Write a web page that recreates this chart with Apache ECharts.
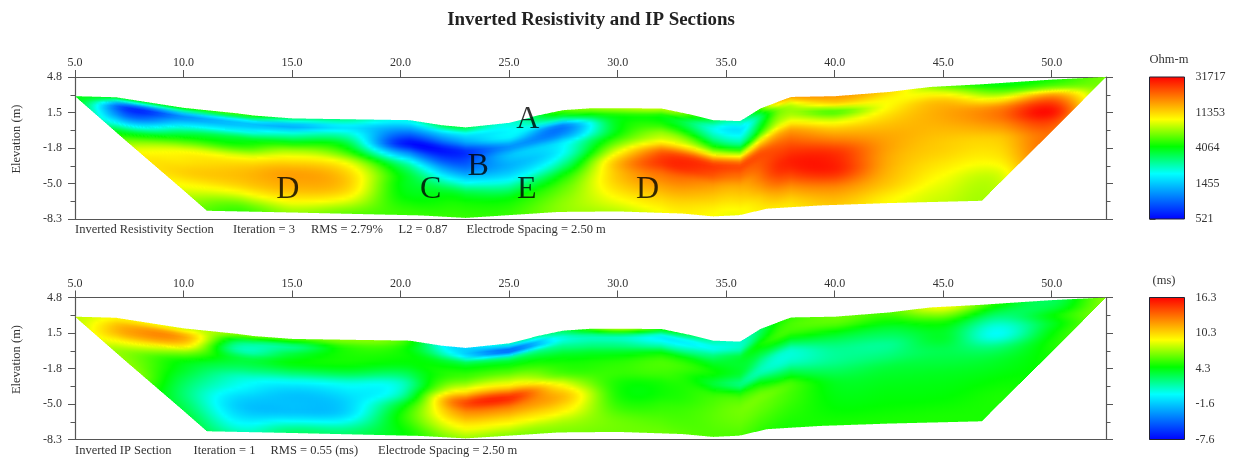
<!DOCTYPE html>
<html>
<head>
<meta charset="utf-8">
<script src="https://cdn.jsdelivr.net/npm/echarts@6/dist/echarts.min.js"></script>
<style>html,body{margin:0;padding:0;background:#fff}#c{width:1238px;height:460px}</style>
</head>
<body>
<div id="c"></div>
<script>
const xTicks = [5,10,15,20,25,30,35,40,45,50];
const elevationLabels = ['-8.3','-5.0','-1.8','1.5','4.8'];
const resistivityLabels = ['521','1455','4064','11353','31717'];
const chargeabilityLabels = ['-7.6','-1.6','4.3','10.3','16.3'];

const surfaceX = [5,6.9,10,12.5,13.2,15,18,20.4,21.9,23,25,26.4,27.5,28.8,32,33.5,34.4,35.65,36.6,38,40,42.5,44.4,46.8,50,52.5];
const surfaceZ = [3.03,2.93,1.95,1.44,1.25,0.98,0.89,0.82,0.35,0.15,0.57,1.28,1.74,1.92,1.9,1.28,0.82,0.73,1.9,2.96,3.03,3.42,3.88,4.13,4.56,4.8];
const bottomX = [5,11.06,15,20.9,23,27.3,30,33,34.4,35.6,36.9,39.3,42.5,46.8,52.5];
const bottomZ = [3.03,-7.54,-7.7,-7.97,-8.2,-7.65,-7.6,-7.8,-8.06,-7.95,-7.35,-7.05,-6.83,-6.62,4.8];

const columnX = [5,7.5,10,12.5,15,17.5,20,22.5,25,27.5,30,32.5,35.6,37.5,40,42.5,45,47.5,50,52.5];
const depthRows = [0,0.7,1.4,2.2,3,4,5,6,7,8.5,10,11.5];

const resistivity = [
 [4000,4000,4000,4000,4000,4000,4000,4000,4000,4000,4000,4000],
 [3800,750,800,1500,3500,6500,9000,9000,9000,9000,9000,9000],
 [4200,1150,1500,3000,5000,9000,10500,11500,9500,7000,6000,6000],
 [5000,1500,1700,3500,4800,9000,12000,12500,10000,5500,4500,4500],
 [3000,1300,2200,4000,7000,11000,14500,14000,11500,7000,5000,5000],
 [2800,1700,2300,3500,5000,8800,11500,12000,10000,6000,4500,4500],
 [2000,1300,850,620,1200,2800,4000,4100,4300,5000,5000,5000],
 [3500,1700,1100,620,700,1100,2000,3600,4500,5000,5000,5000],
 [2200,1900,1800,1100,1400,1300,1700,2800,4200,5000,5000,5000],
 [5500,3000,1050,1100,1800,2000,2800,4300,5500,6500,6500,6500],
 [7000,4300,4000,4200,5500,8800,13000,12500,11500,9000,7000,7000],
 [7000,4000,4300,6500,9500,22000,26000,19000,15000,11000,9000,9000],
 [2500,1700,2000,3000,7000,21000,19000,14000,11500,9000,9000,9000],
 [12000,6500,6500,8500,14000,20000,24000,26000,22000,14000,10000,10000],
 [15000,11000,5500,8000,12000,17000,24000,27000,26000,16000,12000,11000],
 [11000,9500,9500,11000,12500,14000,14500,14000,13500,12000,9500,9000],
 [6000,9000,12500,14000,14000,13000,12000,11500,10500,9000,8000,7500],
 [4000,5500,9000,16000,18000,15000,12000,11000,10000,8000,7500,7500],
 [4500,6000,14500,24000,29000,22000,18000,18000,18000,18000,18000,18000],
 [6000,6000,6000,6000,6000,6000,6000,6000,6000,6000,6000,6000]
];

const chargeability = [
 [8,8,8,8,8,8,8,8,8,8,8,8],
 [9.5,11.5,11.5,9,7,7,7.5,7,6,6,6,6],
 [8.5,11.5,10.5,7,4.6,3.8,3,2.6,3,4,4,4],
 [7,3,1.5,3.5,3,1,0,-1.2,-1.3,0.5,3,3],
 [6,2.2,3.5,4.5,3,0,-1.6,-1.8,-1.4,2.5,3,3],
 [7,5.3,5,4.8,3.5,0.5,-0.8,-1.3,-0.8,2.5,3,3],
 [6,5,4.8,4.4,3,1,1.5,4,5,4.5,4.5,4.5],
 [-1,0,3.5,5,6,8.8,13,11.5,9.5,7,6,6],
 [1,-4.5,2.5,5,6.8,10,15,12.5,10,7,6,6],
 [3,0.5,2,4,5,6,9,11,10,7.5,6.5,6.5],
 [7.5,1.5,2,4,5.2,5.5,5,5,5.5,6.5,6.5,6.5],
 [4,-0.3,1,4.5,5.8,5.5,5,5,5.5,6,6.5,6.5],
 [1,1.2,3.5,3.8,3.8,2.5,5.5,6.5,6.5,6,5.5,5.5],
 [5,5.5,5.5,3.5,1,1,3.5,6,6,5.5,5,5],
 [6.5,6,4.5,3,2,2,3,4,4.3,4.6,5,5],
 [6,5,3.8,2.8,2,2.5,3.5,4,4.3,4.6,5,5],
 [9,7,5,4,3.8,3.2,3.5,4,4.3,4.6,5,5],
 [5,3.5,2,0.5,0.3,2.5,3.7,4.2,4.6,5,5,5],
 [3,3.5,4.5,4,4.5,5,5,5,5,5,5,5],
 [7,7,7,7,7,7,7,7,7,7,7,7]
];

const markerLetters = ['A','B','C','D','E','D'];
const markerX = [25.86,23.58,21.39,14.8,25.81,31.38];
const markerZ = [1.1,-3.27,-5.42,-5.38,-5.42,-5.42];

const palettePositions = [0,0.32,0.51,0.7,1];
const paletteColors = [[0,0,255],[0,255,255],[0,255,0],[255,255,0],[255,0,0]];

const serif = '"Liberation Serif","Times New Roman",serif';
const inkText = '#333';
const inkAxis = '#555';

function piecewise(xs, ys, x) {
  if (x <= xs[0]) return ys[0];
  for (let i = 1; i < xs.length; i++) {
    if (x <= xs[i]) {
      const t = (x - xs[i-1]) / (xs[i] - xs[i-1]);
      return ys[i-1] + t * (ys[i] - ys[i-1]);
    }
  }
  return ys[ys.length-1];
}
function fractionalIndex(xs, x) {
  if (x <= xs[0]) return 0;
  for (let i = 1; i < xs.length; i++) {
    if (x <= xs[i]) return i - 1 + (x - xs[i-1]) / (xs[i] - xs[i-1]);
  }
  return xs.length - 1;
}
function spline(a, b, c, d, t) {
  return 0.5 * (2*b + (c-a)*t + (2*a-5*b+4*c-d)*t*t + (3*b-a-3*c+d)*t*t*t);
}
function colorAt(p) {
  p = Math.max(0, Math.min(1, p));
  let i = 1;
  while (i < palettePositions.length - 1 && p > palettePositions[i]) i++;
  const t = (p - palettePositions[i-1]) / (palettePositions[i] - palettePositions[i-1]);
  const A = paletteColors[i-1], B = paletteColors[i];
  return 'rgb(' + [0,1,2].map(k => Math.round(A[k] + t*(B[k]-A[k]))).join(',') + ')';
}
const toPosRes = v => Math.log(v/521) / Math.log(31717/521);
const toPosIP = v => (v + 7.6) / 23.9;

function makeField(matrix, toPos) {
  const P = matrix.map(col => col.map(toPos));
  const nc = P.length, nr = P[0].length;
  const at = (c, r) => P[Math.max(0, Math.min(nc-1, c))][Math.max(0, Math.min(nr-1, r))];
  return function (x, d) {
    const fc = fractionalIndex(columnX, x), fr = fractionalIndex(depthRows, d);
    const c = Math.min(nc-2, Math.floor(fc)), r = Math.min(nr-2, Math.floor(fr));
    const tc = fc - c, tr = fr - r, rowVals = [];
    for (let j = -1; j <= 2; j++) {
      rowVals.push(spline(at(c-1,r+j), at(c,r+j), at(c+1,r+j), at(c+2,r+j), tc));
    }
    return spline(rowVals[0], rowVals[1], rowVals[2], rowVals[3], tr);
  };
}

function sectionSeries(gridIndex, matrix, toPos) {
  const field = makeField(matrix, toPos);
  return {
    type: 'custom', xAxisIndex: gridIndex*2, yAxisIndex: gridIndex*2, silent: true, animation: false, clip: true,
    data: columnX.slice(0, -1).map((x, i) => [x, columnX[i+1]]),
    encode: { x: [0, 1] },
    renderItem(params, api) {
      const x0 = api.value(0), x1 = api.value(1);
      const p0 = Math.round(api.coord([x0, 0])[0]), p1 = Math.round(api.coord([x1, 0])[0]);
      const children = [];
      for (let px = p0; px < p1; px += 1) {
        const x = x0 + (px + 0.5 - p0) / (p1 - p0) * (x1 - x0);
        const top = piecewise(surfaceX, surfaceZ, x), bot = piecewise(bottomX, bottomZ, x);
        const yTop = api.coord([x, top])[1], yBot = api.coord([x, bot])[1];
        if (yBot - yTop < 0.2) continue;
        const n = Math.max(2, Math.ceil((yBot - yTop) / 3));
        const stops = [];
        for (let k = 0; k <= n; k++) {
          const t = k / n;
          stops.push({ offset: t, color: colorAt(field(x, t * (top - bot))) });
        }
        children.push({
          type: 'rect',
          shape: { x: px, y: yTop, width: 1, height: yBot - yTop },
          style: { fill: new echarts.graphic.LinearGradient(0, 0, 0, 1, stops) }
        });
      }
      return { type: 'group', children };
    }
  };
}

function barSeries(gridIndex) {
  return {
    type: 'custom', xAxisIndex: gridIndex*2, yAxisIndex: gridIndex*2, silent: true, animation: false,
    data: [[0, 1, 0, 4]],
    encode: { x: [0, 1], y: [2, 3] },
    renderItem(params, api) {
      const a = api.coord([api.value(0), api.value(3)]);
      const b = api.coord([api.value(1), api.value(2)]);
      const stops = palettePositions.map(p => ({ offset: 1 - p, color: colorAt(p) })).reverse();
      return {
        type: 'rect',
        shape: { x: a[0], y: a[1], width: b[0]-a[0], height: b[1]-a[1] },
        style: { fill: new echarts.graphic.LinearGradient(0, 0, 0, 1, stops), stroke: '#223', lineWidth: 1 }
      };
    }
  };
}

const axisLine = { show: true, onZero: false, lineStyle: { color: inkAxis, width: 1.2 } };
const labelFont = { fontFamily: serif, fontSize: 12, color: inkText };

function xAxesFor(grid) {
  return [
    { gridIndex: grid, type: 'value', position: 'top', min: 5, max: 52.5,
      axisLine, splitLine: { show: false },
      axisTick: { show: true, length: 7, customValues: xTicks, lineStyle: { color: inkAxis } },
      axisLabel: { ...labelFont, margin: 8, customValues: xTicks, formatter: v => v.toFixed(1) } },
    { gridIndex: grid, type: 'value', position: 'bottom', min: 5, max: 52.5,
      axisLine, splitLine: { show: false }, axisTick: { show: false }, axisLabel: { show: false } }
  ];
}
function yAxesFor(grid) {
  const minorTick = { show: true, splitNumber: 2, length: 4.5, lineStyle: { color: inkAxis } };
  const axisTick = { show: true, length: 7, lineStyle: { color: inkAxis } };
  return [
    { gridIndex: grid, type: 'value', position: 'left', min: -8.3, max: 4.8, interval: 3.275,
      axisLine, axisTick, minorTick, splitLine: { show: false }, minorSplitLine: { show: false },
      axisLabel: { ...labelFont, margin: 13, formatter: v => elevationLabels[Math.round((v + 8.3) / 3.275)] } },
    { gridIndex: grid, type: 'value', position: 'right', min: -8.3, max: 4.8, interval: 3.275,
      axisLine, axisTick, minorTick, splitLine: { show: false }, minorSplitLine: { show: false },
      axisLabel: { show: false } }
  ];
}
function barAxes(grid, labels) {
  return {
    x: [
      { gridIndex: grid, type: 'value', min: 0, max: 1, show: false },
      { gridIndex: grid, type: 'value', min: 0, max: 1, show: false }
    ],
    y: [
      { gridIndex: grid, type: 'value', position: 'right', min: 0, max: 4, interval: 1,
        axisLine: { show: false }, splitLine: { show: false },
        axisTick: { show: true, length: 6, lineStyle: { color: inkAxis } },
        minorTick: { show: true, splitNumber: 2, length: 4, lineStyle: { color: inkAxis } },
        axisLabel: { ...labelFont, margin: 11, formatter: v => labels[Math.round(v)] } },
      { gridIndex: grid, type: 'value', min: 0, max: 4, show: false }
    ]
  };
}
const barA = barAxes(2, resistivityLabels), barB = barAxes(3, chargeabilityLabels);

function note(text, x, y, extra) {
  return { type: 'text', x, y, silent: true,
    style: Object.assign({ text, fontFamily: serif, fontSize: 12.5, fill: inkText, textVerticalAlign: 'middle' }, extra || {}) };
}

const option = {
  backgroundColor: '#fff',
  animation: false,
  title: { text: 'Inverted Resistivity and IP Sections', left: 586, top: 6, textAlign: 'center',
    textStyle: { fontFamily: serif, fontSize: 18.9, fontWeight: 'bold', color: '#222' } },
  grid: [
    { left: 75, top: 77, width: 1031, height: 142 },
    { left: 75, top: 297.5, width: 1031, height: 142 },
    { left: 1149.5, top: 77, width: 35, height: 142 },
    { left: 1149.5, top: 297.5, width: 35, height: 142 }
  ],
  xAxis: [...xAxesFor(0), ...xAxesFor(1), ...barA.x, ...barB.x],
  yAxis: [...yAxesFor(0), ...yAxesFor(1), ...barA.y, ...barB.y],
  series: [
    sectionSeries(0, resistivity, toPosRes),
    sectionSeries(1, chargeability, toPosIP),
    barSeries(2),
    barSeries(3),
    {
      type: 'scatter', xAxisIndex: 0, yAxisIndex: 0, silent: true, animation: false,
      symbolSize: 1, itemStyle: { color: 'rgba(0,0,0,0)' },
      data: markerLetters.map((l, i) => [markerX[i], markerZ[i], l]),
      label: { show: true, position: 'inside', offset: [0, 2], formatter: p => p.value[2],
        fontFamily: serif, fontSize: 32, color: '#000' },
      z: 10
    }
  ],
  graphic: [
    note('Elevation (m)', 17, 139, { textAlign: 'center' }),
    note('Elevation (m)', 17, 359.5, { textAlign: 'center' }),
    note('Ohm-m', 1169, 60, { textAlign: 'center' }),
    note('(ms)', 1164, 281, { textAlign: 'center' }),
    note('Inverted Resistivity Section', 75, 230),
    note('Iteration = 3', 233, 230),
    note('RMS = 2.79%', 311, 230),
    note('L2 = 0.87', 398.5, 230),
    note('Electrode Spacing = 2.50 m', 466.5, 230),
    note('Inverted IP Section', 75, 451),
    note('Iteration = 1', 193.5, 451),
    note('RMS = 0.55 (ms)', 270.5, 451),
    note('Electrode Spacing = 2.50 m', 378, 451)
  ].map((g, i) => i < 2 ? Object.assign(g, { rotation: Math.PI / 2 }) : g)
};
const chart = echarts.init(document.getElementById('c'), null, { renderer: 'canvas' });
chart.setOption(option);
</script>
</body>
</html>
